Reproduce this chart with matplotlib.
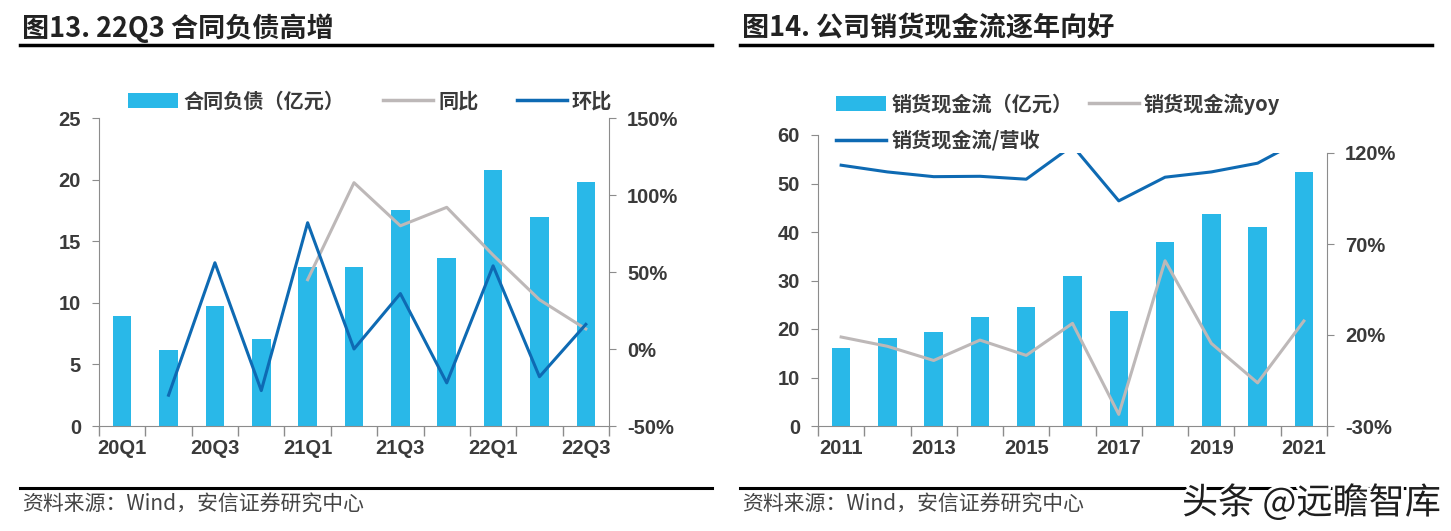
import numpy as np
import matplotlib
matplotlib.use('Agg')
import matplotlib.pyplot as plt
import matplotlib.patheffects as pe
from matplotlib.lines import Line2D
from matplotlib.patches import Patch
from matplotlib.ticker import FuncFormatter, FixedLocator

# ---- data: left chart (contract liabilities by quarter)
quarters = ['20Q1', '20Q2', '20Q3', '20Q4', '21Q1', '21Q2',
            '21Q3', '21Q4', '22Q1', '22Q2', '22Q3']
contract = [8.9, 6.2, 9.7, 7.1, 12.9, 12.9, 17.5, 13.6, 20.8, 17.0, 19.8]
contract_yoy = [np.nan, np.nan, np.nan, np.nan, 45, 108, 80, 92, 61, 32, 13]
contract_qoq = [np.nan, -30, 56, -27, 82, 0, 36, -22, 54, -18, 16]

# ---- data: right chart (cash received from sales by year)
years = ['2011', '2012', '2013', '2014', '2015', '2016',
         '2017', '2018', '2019', '2020', '2021']
cash = [16.0, 18.2, 19.3, 22.5, 24.5, 31.0, 23.7, 38.0, 43.8, 41.0, 52.3]
cash_yoy = [18.9, 13.8, 6.0, 17.2, 8.8, 26.4, -23.6, 60.8, 15.4, -6.3, 27.7]
cash_ratio = [113.3, 109.6, 107.0, 107.2, 105.6, 124.0, 93.7, 106.7, 109.6, 114.4, 128.0]

BAR = '#29B8E8'
BLUE = '#0E6AB3'
GRAY = '#BDB8B8'
SPINE = '#8C8C8C'
TXT = '#3A3A3A'

NUM_FONT = ['Liberation Sans Narrow', 'Liberation Sans', 'DejaVu Sans']
CJK_FONT = ['Noto Sans CJK SC', 'DejaVu Sans']
plt.rcParams['font.family'] = CJK_FONT
NUM_SIZE = 14.5

W, H = 1451, 531
fig = plt.figure(figsize=(W / 100, H / 100), dpi=100)


def fx(px):
    return px / W


def fy(py):
    return 1 - py / H


pct = FuncFormatter(lambda v, p: '%d%%' % round(v))


def style_num_ticks(ax):
    for lab in ax.get_yticklabels():
        lab.set_fontfamily(NUM_FONT)
        lab.set_fontweight('bold')
        lab.set_fontsize(NUM_SIZE)
        lab.set_color(TXT)


def cat_axis(ax, labels):
    n = len(labels)
    ax.set_xlim(-0.5, n - 0.5)
    ax.xaxis.set_major_locator(FixedLocator(np.arange(-0.5, n, 1.0)))
    ax.xaxis.set_minor_locator(FixedLocator(np.arange(0, n, 2)))
    ax.set_xticklabels([''] * (n + 1))
    ax.set_xticklabels(labels[::2], minor=True)
    ax.tick_params(axis='x', which='major', direction='out', length=7,
                   color=SPINE, width=1)
    ax.tick_params(axis='x', which='minor', length=0, pad=9)
    for lab in ax.get_xticklabels(minor=True):
        lab.set_fontfamily(NUM_FONT)
        lab.set_fontweight('bold')
        lab.set_fontsize(NUM_SIZE)
        lab.set_color(TXT)


# =================== left chart ===================
axL = fig.add_axes([fx(99), fy(426), fx(510), 308 / H])
x = np.arange(len(quarters))
axL.bar(x, contract, width=0.4, color=BAR, zorder=2)
axL.set_ylim(0, 25)
axL.set_yticks([0, 5, 10, 15, 20, 25])
cat_axis(axL, quarters)
axL.tick_params(axis='y', direction='out', length=5, color=SPINE, pad=8)
style_num_ticks(axL)
for s in ['top', 'right']:
    axL.spines[s].set_visible(False)
for s in ['left', 'bottom']:
    axL.spines[s].set_color(SPINE)

axL2 = axL.twinx()
axL2.plot(x, contract_yoy, color=GRAY, lw=2.2, zorder=3)
axL2.plot(x, contract_qoq, color=BLUE, lw=2.2, zorder=4)
axL2.set_ylim(-50, 150)
axL2.set_yticks([-50, 0, 50, 100, 150])
axL2.yaxis.set_major_formatter(pct)
axL2.tick_params(axis='y', direction='out', length=5, color=SPINE, pad=8)
style_num_ticks(axL2)
for s in ['top', 'left', 'bottom']:
    axL2.spines[s].set_visible(False)
axL2.spines['right'].set_color(SPINE)

leg_prop = {'family': CJK_FONT, 'weight': 'bold', 'size': 14.5}
hL = [Patch(facecolor=BAR, edgecolor='none'),
      Line2D([], [], color=GRAY, lw=2.5),
      Line2D([], [], color=BLUE, lw=2.5)]
fig.legend(hL, ['合同负债（亿元）', '同比', '环比'], loc='center left',
           bbox_to_anchor=(fx(118), fy(101)), ncol=3, frameon=False,
           prop=leg_prop, labelcolor=TXT, handlelength=2.5,
           handletextpad=0.25, columnspacing=1.9, borderpad=0)

# =================== right chart ===================
axR = fig.add_axes([fx(818), fy(426), fx(509), 291 / H])
xr = np.arange(len(years))
axR.bar(xr, cash, width=0.4, color=BAR, zorder=2)
axR.set_ylim(0, 60)
axR.set_yticks([0, 10, 20, 30, 40, 50, 60])
cat_axis(axR, years)
axR.tick_params(axis='y', direction='out', length=5, color=SPINE, pad=8)
style_num_ticks(axR)
for s in ['top', 'right']:
    axR.spines[s].set_visible(False)
for s in ['left', 'bottom']:
    axR.spines[s].set_color(SPINE)

axR2 = fig.add_axes([fx(818), fy(426), fx(509), 273 / H], facecolor='none')
axR2.plot(xr, cash_yoy, color=GRAY, lw=2.2, zorder=3)
axR2.plot(xr, cash_ratio, color=BLUE, lw=2.2, zorder=4)
axR2.set_xlim(-0.5, len(years) - 0.5)
axR2.set_ylim(-30, 120)
axR2.set_yticks([-30, 20, 70, 120])
axR2.yaxis.set_major_formatter(pct)
axR2.yaxis.tick_right()
axR2.xaxis.set_visible(False)
axR2.tick_params(axis='y', direction='out', length=5, color=SPINE, pad=8)
style_num_ticks(axR2)
for s in ['top', 'left', 'bottom']:
    axR2.spines[s].set_visible(False)
axR2.spines['right'].set_color(SPINE)

hR = [Patch(facecolor=BAR, edgecolor='none'),
      Line2D([], [], color=BLUE, lw=2.5),
      Line2D([], [], color=GRAY, lw=2.5)]
fig.legend(hR, ['销货现金流（亿元）', '销货现金流/营收', '销货现金流yoy'],
           loc='upper left', bbox_to_anchor=(fx(826), fy(83)), ncol=2,
           frameon=False, prop=leg_prop, labelcolor=TXT,
           handlelength=2.5, handletextpad=0.25, columnspacing=0.8,
           labelspacing=0.75, borderpad=0)

# =================== titles, rules, sources ===================
fig.text(fx(22), fy(28), '图13. 22Q3 合同负债高增', fontsize=19.5,
         fontweight='heavy', color='#222222', va='center', ha='left')
fig.text(fx(742), fy(28), '图14. 公司销货现金流逐年向好', fontsize=19.5,
         fontweight='heavy', color='#222222', va='center', ha='left')
for x0, x1 in [(20, 712), (740, 1432)]:
    fig.add_artist(Line2D([fx(x0), fx(x1)], [fy(45), fy(45)], color='black', lw=2.5))
    fig.add_artist(Line2D([fx(x0), fx(x1)], [fy(488), fy(488)], color='black', lw=2.2))
fig.text(fx(22), fy(505), '资料来源：Wind，安信证券研究中心', fontsize=15,
         color='#444444', va='center', ha='left', style='italic')
fig.text(fx(742), fy(505), '资料来源：Wind，安信证券研究中心', fontsize=15,
         color='#444444', va='center', ha='left', style='italic')
fig.text(fx(1441), fy(503), '头条 @远瞻智库', fontsize=26, color='#1E1E1E',
         ha='right', va='center',
         path_effects=[pe.withStroke(linewidth=4, foreground='white')])

fig.savefig('out.png', dpi=100)
